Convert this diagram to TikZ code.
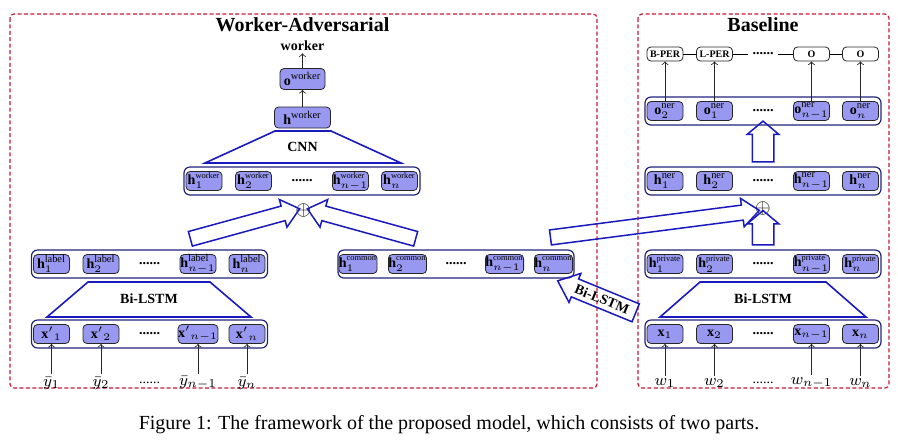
\documentclass[tikz,border=0pt]{standalone}
\usepackage{amsmath}
\usepackage{fontspec}
\setmainfont{Liberation Serif}
\usepackage{xcolor}
\usepackage{tikz}
\usetikzlibrary{calc,shapes.arrows}

\definecolor{cellfill}{RGB}{152,152,240}
\definecolor{rowline}{RGB}{35,35,125}
\definecolor{lineblue}{RGB}{25,25,190}
\definecolor{framered}{RGB}{200,25,55}

\begin{document}
\begin{tikzpicture}[x=0.5pt,y=-0.5pt,
  cell/.style={draw=black!85,fill=cellfill,rounded corners=2pt,line width=0.4pt,
    minimum width=18pt,minimum height=9.5pt,inner sep=0pt,font=\scriptsize},
  rowbox/.style={draw=rowline,fill=white,rounded corners=3pt,line width=0.6pt,
    minimum width=118pt,minimum height=14pt},
  rowdots/.style={font=\scriptsize\bfseries,inner sep=0pt},
  tagbox/.style={draw=black!85,rounded corners=2pt,line width=0.4pt,
    minimum width=18pt,minimum height=7pt,inner sep=0pt,font=\tiny\bfseries},
  frame/.style={draw=framered,line width=0.6pt,dash pattern=on 2pt off 1.2pt,rounded corners=2pt},
  trap/.style={draw=lineblue,line width=0.8pt},
  fatslant/.style={single arrow,draw=lineblue,line width=0.75pt,inner xsep=0pt,inner ysep=3.4pt,
    single arrow head extend=3.4pt,single arrow tip angle=80},
  fatup/.style={fatslant,inner ysep=5pt,single arrow head extend=2.5pt,single arrow tip angle=100},
  inlab/.style={font=\footnotesize,inner sep=1pt},
  feed/.style={->,black!85,line width=0.4pt}
]
\useasboundingbox (0,0) rectangle (898,447);
\def\supsmall#1{\text{\fontsize{4.2}{4.2}\selectfont #1}}
\def\supbig#1{\text{\fontsize{5.2}{5.2}\selectfont #1}}
\def\cellrow#1#2#3#4#5#6#7{%
  \node[rowbox] (#1) at (#2+98,#3) {};
  \node[cell] (#1-1) at (#2,#3) {#4};
  \node[cell] (#1-2) at (#2+49.5,#3) {#5};
  \node[rowdots] (#1-d) at (#2+98,#3) {......};
  \node[cell] (#1-3) at (#2+146.5,#3) {#6};
  \node[cell] (#1-4) at (#2+195.5,#3) {#7};}
\def\fatarrow#1#2#3#4{\path let \p1=($(#2)-(#1)$), \n1={atan2(\y1,\x1)}, \n2={veclen(\x1,\y1)} in
  node[#4,rotate=\n1,minimum height=\n2] (#3) at ($(#1)!0.5!(#2)$) {};}

% frames and titles
\draw[frame] (10,14) rectangle (597,388);
\draw[frame] (638,14) rectangle (889,388);
\node[font=\bfseries] (titleL) at (302.5,25) {Worker-Adversarial};
\node[font=\bfseries] (titleR) at (763,25) {Baseline};

% worker-adversarial part
\cellrow{wk}{204}{181}{$\mathbf{h}^{\supsmall{worker}}_{1}$}{$\mathbf{h}^{\supsmall{worker}}_{2}$}{$\mathbf{h}^{\supsmall{worker}}_{n-1}$}{$\mathbf{h}^{\supsmall{worker}}_{n}$}
\cellrow{lab}{51.5}{264}{$\mathbf{h}^{\supbig{label}}_{1}$}{$\mathbf{h}^{\supbig{label}}_{2}$}{$\mathbf{h}^{\supbig{label}}_{n-1}$}{$\mathbf{h}^{\supbig{label}}_{n}$}
\cellrow{xl}{51.5}{334}{${\mathbf{x}'}_{1}$}{${\mathbf{x}'}_{2}$}{${\mathbf{x}'}_{n-1}$}{${\mathbf{x}'}_{n}$}
\cellrow{com}{358}{264}{$\mathbf{h}^{\supsmall{common}}_{1}$}{$\mathbf{h}^{\supsmall{common}}_{2}$}{$\mathbf{h}^{\supsmall{common}}_{n-1}$}{$\mathbf{h}^{\supsmall{common}}_{n}$}

\node[cell,minimum width=28pt,minimum height=10.5pt] (hw) at (302.5,117.5) {$\mathbf{h}^{\supbig{worker}}$};
\node[cell,minimum width=22.5pt,minimum height=10.5pt] (ow) at (302.5,79) {$\mathbf{o}^{\supbig{worker}}$};
\node[font=\scriptsize\bfseries,inner sep=1pt] (wlab) at (302.5,46) {worker};
\draw[feed] (hw) -- (ow);
\draw[feed] (ow) -- (wlab);
\draw[trap] (275,131) -- (331,131) -- (401,163) -- (205,163) -- cycle;
\node[font=\scriptsize\bfseries] (cnn) at (302.5,147) {CNN};
\draw[trap] (88,282) -- (210,282) -- (251,317) -- (47,317) -- cycle;
\node[font=\scriptsize\bfseries] (lstmL) at (149,299) {Bi-LSTM};

\node[inlab] (yb1) at (51.5,383) {$\bar{y}_1$};
\node[inlab] (yb2) at (101,383) {$\bar{y}_2$};
\node[inlab] (ybd) at (149.5,383) {\scriptsize ......};
\node[inlab] (yb3) at (198,383) {$\bar{y}_{n-1}$};
\node[inlab] (yb4) at (247,383) {$\bar{y}_n$};
\draw[feed] (yb1) -- (xl-1);
\draw[feed] (yb2) -- (xl-2);
\draw[feed] (yb3) -- (xl-3);
\draw[feed] (yb4) -- (xl-4);

\node[inner sep=0pt] (plusL) at (303.5,210) {$\oplus$};
\coordinate (lt) at (186,240);
\coordinate (rt) at (420,240);
\fatarrow{lt}{plusL.west}{arrL}{fatslant}
\fatarrow{rt}{plusL.east}{arrR}{fatslant}

% baseline part
\cellrow{on}{665}{111}{$\mathbf{o}^{\supbig{ner}}_{2}$}{$\mathbf{o}^{\supbig{ner}}_{1}$}{$\mathbf{o}^{\supbig{ner}}_{n-1}$}{$\mathbf{o}^{\supbig{ner}}_{n}$}
\cellrow{ner}{665}{181}{$\mathbf{h}^{\supbig{ner}}_{1}$}{$\mathbf{h}^{\supbig{ner}}_{2}$}{$\mathbf{h}^{\supbig{ner}}_{n-1}$}{$\mathbf{h}^{\supbig{ner}}_{n}$}
\cellrow{pr}{665}{264}{$\mathbf{h}^{\supsmall{private}}_{1}$}{$\mathbf{h}^{\supsmall{private}}_{2}$}{$\mathbf{h}^{\supsmall{private}}_{n-1}$}{$\mathbf{h}^{\supsmall{private}}_{n}$}
\cellrow{xr}{665}{334}{$\mathbf{x}_{1}$}{$\mathbf{x}_{2}$}{$\mathbf{x}_{n-1}$}{$\mathbf{x}_{n}$}

\node[tagbox] (tg1) at (665,54) {B-PER};
\node[tagbox] (tg2) at (714.5,54) {L-PER};
\node[rowdots,inner xsep=2pt] (tgd) at (763,54) {......};
\node[tagbox] (tg3) at (811.5,54) {O};
\node[tagbox] (tg4) at (860.5,54) {O};
\draw[line width=0.4pt] (tg1) -- (tg2) -- (tgd) -- (tg3) -- (tg4);
\draw[feed] (on-1) -- (tg1);
\draw[feed] (on-2) -- (tg2);
\draw[feed] (on-3) -- (tg3);
\draw[feed] (on-4) -- (tg4);

\draw[trap] (700,282) -- (826,282) -- (866,317) -- (660,317) -- cycle;
\node[font=\scriptsize\bfseries] (lstmR) at (763,299) {Bi-LSTM};

\node[inlab] (w1) at (665,383) {$w_1$};
\node[inlab] (w2) at (714.5,383) {$w_2$};
\node[inlab] (wd) at (763,383) {\scriptsize ......};
\node[inlab] (w3) at (811.5,383) {$w_{n-1}$};
\node[inlab] (w4) at (860.5,383) {$w_n$};
\draw[feed] (w1) -- (xr-1);
\draw[feed] (w2) -- (xr-2);
\draw[feed] (w3) -- (xr-3);
\draw[feed] (w4) -- (xr-4);

\node[inner sep=0pt] (plusR) at (763,208) {$\oplus$};
\coordinate (ct) at (546,238);
\fatarrow{ct}{plusR.200}{arrC}{fatslant}
\fatarrow{pr.north}{plusR.south}{arrP}{fatup}
\fatarrow{ner.north}{on.south}{arrN}{fatup}

% shared Bi-LSTM arrow
\coordinate (bTail) at (641,315);
\coordinate (bTip) at (563,283);
\path let \p1=($(bTip)-(bTail)$), \n1={atan2(\y1,\x1)}, \n2={veclen(\x1,\y1)} in
  node[fatslant,shape border rotate=180,rotate=\n1-180,minimum height=\n2,inner ysep=2pt,
    single arrow head extend=3pt,font=\scriptsize\bfseries] (arrB) at ($(bTail)!0.5!(bTip)$) {Bi-LSTM};

\node (caption) at (449,425) {Figure 1: The framework of the proposed model, which consists of two parts.};
\end{tikzpicture}
\end{document}
